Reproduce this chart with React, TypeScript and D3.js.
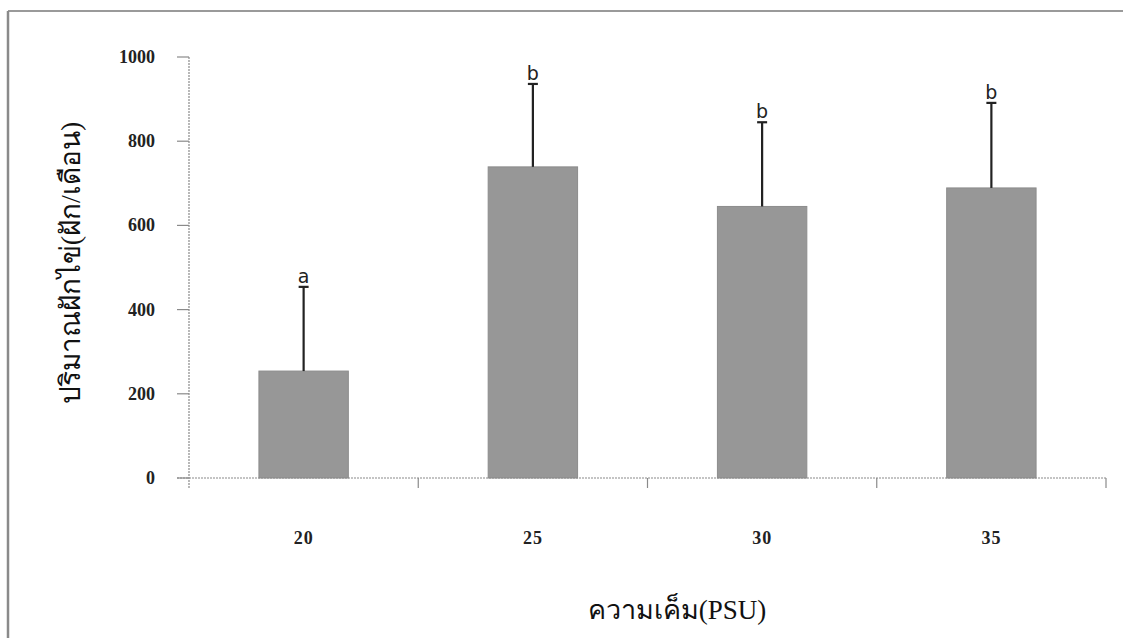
import React from "react";
import * as d3 from "d3";

const categories = ["20", "25", "30", "35"];
const means = [254, 739, 645, 689];
const errors = [200, 197, 200, 202];
const letters = ["a", "b", "b", "b"];
const yTicks = [0, 200, 400, 600, 800, 1000];

const W = 1123;
const H = 638;
const left = 189;
const right = 1106;
const y0 = 478;
const y1 = 57;

export default function App() {
  const x = d3
    .scaleBand<string>()
    .domain(categories)
    .range([left, right])
    .paddingInner(0.61)
    .paddingOuter(0.305);
  const step = x.step();
  const y = d3.scaleLinear().domain([0, 1000]).range([y0, y1]);
  const boundaries = categories.map((_, i) => left + step * (i + 1));
  const serif = "'Liberation Serif', 'Times New Roman', serif";
  const axisColor = "#8a8a8a";

  return (
    <svg
      width={W}
      height={H}
      style={{ position: "absolute", left: 0, top: 0, background: "#fff" }}
    >
      <rect x={0} y={0} width={W} height={H} fill="#fff" />
      {/* frame */}
      <line x1={8} y1={11} x2={W} y2={11} stroke="#9a9a9a" strokeWidth={2} />
      <line x1={8} y1={11} x2={8} y2={H} stroke="#8a8a8a" strokeWidth={2.5} />

      {/* bars */}
      {categories.map((c, i) => (
        <rect
          key={c}
          x={x(c)}
          y={y(means[i])}
          width={x.bandwidth()}
          height={y0 - y(means[i])}
          fill="#979797"
          stroke="#8c8c8c"
          strokeWidth={1}
        />
      ))}

      {/* error bars */}
      {categories.map((c, i) => {
        const cx = (x(c) as number) + x.bandwidth() / 2;
        const top = y(means[i] + errors[i]);
        return (
          <g key={"e" + c}>
            <line x1={cx} x2={cx} y1={y(means[i])} y2={top} stroke="#222" strokeWidth={2.2} />
            <line x1={cx - 5} x2={cx + 5} y1={top} y2={top} stroke="#222" strokeWidth={2.2} />
            <text
              x={cx}
              y={top - 4}
              textAnchor="middle"
              fontFamily="'DejaVu Sans', Arial, sans-serif"
              fontSize={19}
              fill="#222"
            >
              {letters[i]}
            </text>
          </g>
        );
      })}

      {/* y axis */}
      <line x1={left} x2={left} y1={y1} y2={y0 + 10} stroke={axisColor} strokeWidth={1.2} strokeDasharray="2,1" />
      {yTicks.map((t) => (
        <g key={"yt" + t}>
          <line x1={left - 12} x2={left} y1={y(t)} y2={y(t)} stroke={axisColor} strokeWidth={1.2} />
          <text
            x={155}
            y={y(t) + 6}
            textAnchor="end"
            fontFamily={serif}
            fontWeight="bold"
            fontSize={18}
            fill="#222"
          >
            {t}
          </text>
        </g>
      ))}

      {/* x axis */}
      <line x1={left - 12} x2={right} y1={y0} y2={y0} stroke={axisColor} strokeWidth={1.2} strokeDasharray="2,1" />
      {boundaries.map((b, i) => (
        <line key={"xt" + i} x1={b} x2={b} y1={y0} y2={y0 + 10} stroke={axisColor} strokeWidth={1.2} />
      ))}
      {categories.map((c) => (
        <text
          key={"xl" + c}
          x={(x(c) as number) + x.bandwidth() / 2}
          y={544}
          textAnchor="middle"
          fontFamily={serif}
          fontWeight="bold"
          fontSize={18}
          letterSpacing={1}
          fill="#222"
        >
          {c}
        </text>
      ))}

      {/* axis titles */}
      <text
        x={677}
        y={619}
        textAnchor="middle"
        fontFamily={serif}
        fontSize={27}
        fill="#111"
      >
        ความเค็ม(PSU)
      </text>
      <text
        transform={`translate(80, 263) rotate(-90)`}
        textAnchor="middle"
        fontFamily={serif}
        fontSize={28}
        fill="#111"
      >
        ปริมาณฝักไข่(ฝัก/เดือน)
      </text>
    </svg>
  );
}
